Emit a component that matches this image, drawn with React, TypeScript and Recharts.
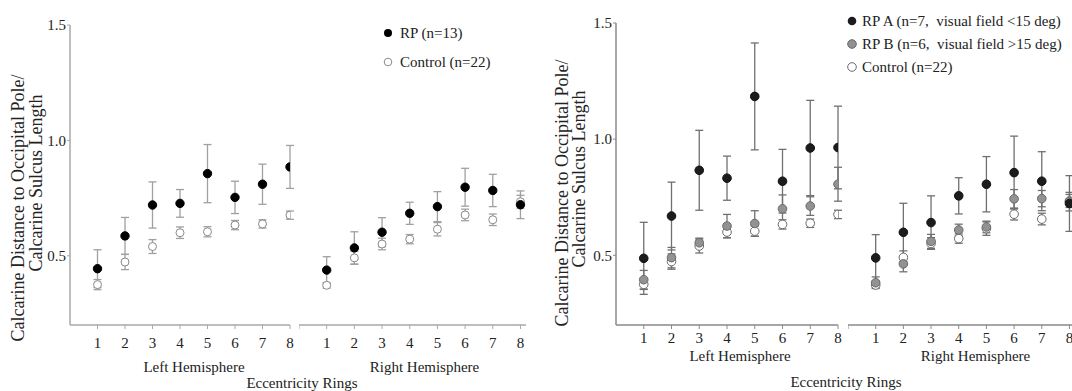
import React from 'react';
import { ScatterChart, Scatter, XAxis, YAxis, ErrorBar } from 'recharts';

const rings = [1, 2, 3, 4, 5, 6, 7, 8];
const yTicks = [0.5, 1.0, 1.5];
const ringTicksLeft = [1, 2, 3, 4, 5, 6, 7, 8];
const ringTicksRight = [0, 1, 2, 3, 4, 5, 6, 7, 8];

// control group (n=22), same values in both panels
const controlLeft = [0.375, 0.473, 0.54, 0.6, 0.604, 0.633, 0.638, 0.676];
const controlLeftErr = [0.022, 0.033, 0.03, 0.025, 0.022, 0.02, 0.018, 0.018];
const controlRight = [0.372, 0.491, 0.551, 0.572, 0.615, 0.677, 0.656, 0.734];
const controlRightErr = [0.012, 0.028, 0.025, 0.02, 0.029, 0.025, 0.025, 0.028];

// all RP (n=13)
const rpLeft = [0.444, 0.586, 0.72, 0.727, 0.856, 0.753, 0.81, 0.885];
const rpLeftErr = [0.082, 0.08, 0.1, 0.06, 0.126, 0.07, 0.087, 0.093];
const rpRight = [0.438, 0.534, 0.602, 0.684, 0.713, 0.797, 0.783, 0.721];
const rpRightErr = [0.058, 0.07, 0.063, 0.048, 0.065, 0.082, 0.07, 0.06];

// RP A (visual field <15 deg)
const rpALeft = [0.487, 0.669, 0.866, 0.832, 1.184, 0.819, 0.962, 0.964];
const rpALeftErr = [0.155, 0.146, 0.172, 0.095, 0.23, 0.137, 0.205, 0.178];
const rpARight = [0.489, 0.599, 0.641, 0.756, 0.806, 0.856, 0.819, 0.723];
const rpARightErr = [0.1, 0.125, 0.115, 0.078, 0.119, 0.157, 0.127, 0.12];

// RP B (visual field >15 deg)
const rpBLeft = [0.395, 0.49, 0.554, 0.626, 0.637, 0.7, 0.712, 0.806];
const rpBLeftErr = [0.04, 0.044, 0.02, 0.05, 0.055, 0.06, 0.04, 0.073];
const rpBRight = [0.382, 0.463, 0.56, 0.609, 0.622, 0.743, 0.744, 0.731];
const rpBRightErr = [0.025, 0.034, 0.03, 0.025, 0.025, 0.04, 0.035, 0.04];

const FONT = 'Liberation Serif, DejaVu Serif, serif';
const TEXT = '#222';

const toRows = (values: number[], errors: number[]) =>
  rings.map((x, i) => ({ x, y: values[i], err: errors[i] }));

interface SeriesDef {
  key: string;
  values: number[];
  errors: number[];
  fill: string;
  stroke: string;
  r: number;
  errStroke: string;
}

interface HemiProps {
  left: number;
  width: number;
  top: number;
  yAxisWidth: number;
  domainMax: number;
  ticks: number[];
  series: SeriesDef[];
  label: string;
  labelDx: number;
  labelOffset: number;
  tickMargin: number;
  axisColor: string;
  yLabel?: React.ReactElement;
}

const Hemi = ({
  left, width, top, yAxisWidth, domainMax, ticks, series, label, labelDx, labelOffset, tickMargin, axisColor, yLabel,
}: HemiProps) => (
  <div style={{ position: 'absolute', left, top: 0, fontFamily: FONT }}>
    <ScatterChart width={width} height={391} margin={{ top, right: 13, bottom: 18, left: 0 }} style={{ fontFamily: FONT }}>
      <XAxis
        type="number"
        dataKey="x"
        domain={[0, domainMax]}
        ticks={ticks}
        interval={0}
        allowDataOverflow
        height={48}
        tickSize={4}
        tickMargin={tickMargin}
        tickFormatter={(v: number) => (v === 0 ? '' : String(v))}
        axisLine={{ stroke: axisColor, strokeWidth: 1.5 }}
        tickLine={{ stroke: axisColor }}
        tick={{ fontSize: 15, fill: TEXT, fontFamily: FONT, style: { fontFamily: FONT } }}
        label={{ value: label, position: 'insideBottom', offset: labelOffset, dx: labelDx, fontSize: 15, fill: TEXT, style: { fontFamily: FONT } }}
      />
      <YAxis
        type="number"
        dataKey="y"
        domain={[0.2, 1.5]}
        ticks={yTicks}
        allowDataOverflow
        hide={!yLabel}
        width={yAxisWidth}
        tickSize={3}
        tickMargin={1}
        tickFormatter={(v: number) => v.toFixed(1)}
        axisLine={{ stroke: axisColor, strokeWidth: 1.5 }}
        tickLine={{ stroke: axisColor }}
        tick={{ fontSize: 15, fill: TEXT, fontFamily: FONT, style: { fontFamily: FONT } }}
        label={yLabel ? { content: () => yLabel } : undefined}
      />
      {series.map((s) => (
        <Scatter
          key={s.key}
          data={toRows(s.values, s.errors)}
          isAnimationActive={false}
          shape={(p: any) => <circle cx={p.cx} cy={p.cy} r={s.r} fill={s.fill} stroke={s.stroke} strokeWidth={1} />}
        >
          <ErrorBar dataKey="err" direction="y" width={4} stroke={s.errStroke} strokeWidth={1.3} isAnimationActive={false} />
        </Scatter>
      ))}
    </ScatterChart>
  </div>
);

const yLabelText = (x1: number, x2: number, c1: number, c2: number, size: number) => (
  <g fontSize={size} fill={TEXT} style={{ fontFamily: FONT }}>
    <text x={x1} y={c1} textAnchor="middle" transform={`rotate(-90, ${x1}, ${c1})`}>
      Calcarine Distance to Occipital Pole/
    </text>
    <text x={x2} y={c2} textAnchor="middle" transform={`rotate(-90, ${x2}, ${c2})`}>
      Calcarine Sulcus Length
    </text>
  </g>
);

const p1Control: SeriesDef = { key: 'ctl', values: [], errors: [], fill: '#fff', stroke: '#8a8a8a', r: 4, errStroke: '#a0a0a0' };

export default function App() {
  const panel1Left: SeriesDef[] = [
    { ...p1Control, values: controlLeft, errors: controlLeftErr },
    { key: 'rp', values: rpLeft, errors: rpLeftErr, fill: '#000', stroke: '#000', r: 4.2, errStroke: '#a0a0a0' },
  ];
  const panel1Right: SeriesDef[] = [
    { ...p1Control, values: controlRight, errors: controlRightErr },
    { key: 'rp', values: rpRight, errors: rpRightErr, fill: '#000', stroke: '#000', r: 4.2, errStroke: '#a0a0a0' },
  ];
  const ctl2 = { key: 'ctl', fill: '#fff', stroke: '#6a6a6a', r: 4.3, errStroke: '#707070' };
  const rpA = { key: 'rpa', fill: '#1c1c1c', stroke: '#111', r: 4.3, errStroke: '#707070' };
  const rpB = { key: 'rpb', fill: '#929292', stroke: '#6a6a6a', r: 4.3, errStroke: '#707070' };
  const panel2Left: SeriesDef[] = [
    { ...ctl2, values: controlLeft, errors: controlLeftErr },
    { ...rpB, values: rpBLeft, errors: rpBLeftErr },
    { ...rpA, values: rpALeft, errors: rpALeftErr },
  ];
  const panel2Right: SeriesDef[] = [
    { ...ctl2, values: controlRight, errors: controlRightErr },
    { ...rpB, values: rpBRight, errors: rpBRightErr },
    { ...rpA, values: rpARight, errors: rpARightErr },
  ];

  return (
    <div style={{ position: 'absolute', left: 0, top: 0, width: 1072, height: 391, overflow: 'hidden', background: '#fff', fontFamily: FONT }}>
      <Hemi left={0} width={303} top={25} yAxisWidth={70} domainMax={8} ticks={ringTicksLeft} series={panel1Left}
        label="Left Hemisphere" labelDx={14} labelOffset={1} tickMargin={8} axisColor="#a8a8a8"
        yLabel={yLabelText(24, 42, 208, 183, 18)} />
      <Hemi left={299} width={240} top={25} yAxisWidth={0} domainMax={8.2} ticks={ringTicksRight} series={panel1Right}
        label="Right Hemisphere" labelDx={12} labelOffset={1} tickMargin={8} axisColor="#a8a8a8" />
      <Hemi left={530} width={321} top={23} yAxisWidth={86} domainMax={8} ticks={ringTicksLeft} series={panel2Left}
        label="Left Hemisphere" labelDx={13} labelOffset={12} tickMargin={3} axisColor="#8a8a8a"
        yLabel={yLabelText(38, 55, 193, 179, 18)} />
      <Hemi left={848} width={240} top={23} yAxisWidth={0} domainMax={8.2} ticks={ringTicksRight} series={panel2Right}
        label="Right Hemisphere" labelDx={14} labelOffset={12} tickMargin={3} axisColor="#8a8a8a" />

      <svg width={1072} height={391} style={{ position: 'absolute', left: 0, top: 0, pointerEvents: 'none', fontFamily: FONT }}>
        <g fontSize={15} fill={TEXT}>
          <text x={302} y={388} textAnchor="middle">Eccentricity Rings</text>
          <text x={846} y={387} textAnchor="middle">Eccentricity Rings</text>

          <circle cx={388} cy={33} r={4} fill="#000" />
          <text x={400} y={38}>RP (n=13)</text>
          <circle cx={388} cy={62} r={3.8} fill="#fff" stroke="#8a8a8a" />
          <text x={400} y={67}>Control (n=22)</text>

          <circle cx={852} cy={21} r={4.3} fill="#1c1c1c" />
          <text x={862} y={26} style={{ whiteSpace: 'pre' }}>RP A (n=7,  visual field &lt;15 deg)</text>
          <circle cx={852} cy={44} r={4.3} fill="#929292" stroke="#6a6a6a" />
          <text x={862} y={49} style={{ whiteSpace: 'pre' }}>RP B (n=6,  visual field &gt;15 deg)</text>
          <circle cx={852} cy={67} r={4.3} fill="#fff" stroke="#6a6a6a" />
          <text x={862} y={72}>Control (n=22)</text>
        </g>
      </svg>
    </div>
  );
}
